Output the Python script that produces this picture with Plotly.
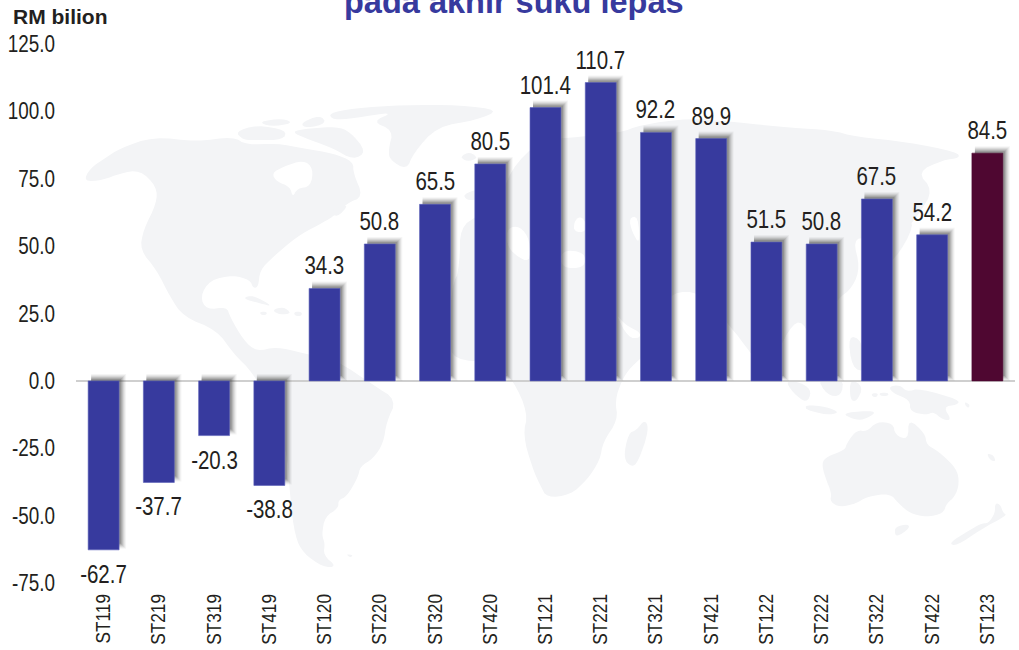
import plotly.graph_objects as go

categories = ["ST119","ST219","ST319","ST419","ST120","ST220","ST320","ST420","ST121","ST221","ST321","ST421","ST122","ST222","ST322","ST422","ST123"]
values = [-62.7,-37.7,-20.3,-38.8,34.3,50.8,65.5,80.5,101.4,110.7,92.2,89.9,51.5,50.8,67.5,54.2,84.5]
y_ticks = [-75,-50,-25,0,25,50,75,100,125]
title_text = "pada akhir suku lepas"
unit_text = "RM bilion"

W, H = 1019, 650
L, R, T, B = 76, 4, 44, 67
PW, PH = W - L - R, H - T - B
UNIT = PH / 200.0           # pixels per RM billion
SLOT = PW / len(categories) # pixels per category
BAR_W = 0.56

BLUE, MAROON, LAND, INK = "#373a9e", "#4f0731", "#f3f4f6", "#231f20"
FONT = "Liberation Sans"

def chaikin(p, n=2):
    for _ in range(n):
        q = []
        for i in range(len(p)):
            a, b = p[i], p[(i + 1) % len(p)]
            q.append((.75*a[0]+.25*b[0], .75*a[1]+.25*b[1]))
            q.append((.25*a[0]+.75*b[0], .25*a[1]+.75*b[1]))
        p = q
    return p

def shape(pts, fill=LAND):
    pts = chaikin(pts)
    xy = [((x - L) / PW, 1 - (y - T) / PH) for x, y in pts]
    d = "M" + " L".join(f"{x:.4f},{y:.4f}" for x, y in xy) + " Z"
    return dict(type="path", path=d, xref="paper", yref="paper", fillcolor=fill,
                line=dict(width=0), layer="below")

def crop(ox, oy, pts):
    return [(ox + x / 3, oy + y / 3) for x, y in pts]

z4 = lambda p: crop(70, 90, p)
z6 = lambda p: crop(270, 380, p)
z7 = lambda p: crop(660, 380, p)
americas = (
    z4([(40,275),(60,235),(105,205),(150,175),(250,140),(380,155),(490,140),(530,165),(620,160),(700,175),(790,190),(850,215),(850,250),(880,320),(830,340),(790,380),(745,405),(680,440),(610,500),(570,540),(565,590),(550,595),(540,570),(490,555),(420,570),(390,620),(410,660),(470,650),(480,680),(520,750),(560,785),(620,770),(700,790),(800,810)])
    + z6([(310,15),(380,60),(350,125),(340,190),(310,235),(270,260),(265,290),(230,350),(205,360),(205,385),(165,410),(155,465),(165,490),(160,525),(200,560),(160,562),(100,520),(75,470),(60,350),(50,200),(-10,60),(-50,-20)])
    + z4([(490,790),(440,720),(340,680),(300,620),(260,540),(210,480),(220,420),(260,340),(260,290),(210,240),(150,250),(100,270)])
)
land = [
 americas,
 z4([(775,70),(850,55),(1000,45),(1170,45),(1290,60),(1220,90),(1100,110),(1030,190),(1010,240),(960,210),(955,180),(970,120),(905,95),(975,65),(850,85),(790,90)]),
 z4([(495,125),(560,105),(650,120),(640,150),(560,150),(520,150)]),
 z4([(565,95),(640,85),(670,100),(600,110)]),
 z4([(690,100),(750,75),(770,100),(710,115)]),
 z4([(660,125),(720,115),(800,110),(840,125),(890,185),(850,210),(790,175),(720,150)]),
 z4([(515,625),(550,615),(610,650),(570,640)]),
 z4([(605,660),(640,650),(665,670),(630,675)]),
 z4([(570,665),(590,665),(590,675),(572,675)]),
 z4([(672,665),(695,665),(695,678),(675,678)]),
 z4([(780,360),(840,340),(800,385)]),
 z4([(1170,200),(1200,185),(1225,205),(1190,215)]),
 z4([(1180,315),(1210,300),(1250,300),(1220,330),(1190,330)]),
 # Eurasia
 [(452,300),(460,262),(460,228),(478,215),(500,205),(510,170),(540,140),(567,138),(620,133),(640,125),(690,118),(733,122),(793,128),(830,130),(857,137),(907,142),(957,152),(960,158),(943,160),(917,172),(933,190),(920,213),(903,233),(893,247),(880,240),(867,237),(853,240),(860,267),(853,287),(837,300),(830,313),(838,345),(822,350),(825,378),(812,340),(800,318),(785,335),(768,378),(745,345),(725,320),(700,292),(672,292),(665,310),(640,300),(600,290)],
 # Africa
 [(452,277),(470,265),(620,265),(660,300),(672,310),(668,335),(650,350),(630,368),(622,380),(615,400),(618,420),(603,442),(600,460),(587,480),(570,495),(547,498),(540,485),(532,467),(523,435),(528,413),(513,380),(495,362),(453,360),(450,340)],
 [(905,215),(915,225),(895,260),(875,272),(885,250)],
 [(848,335),(862,340),(866,372),(852,368)],
 z6([(1125,118),(1137,150),(1105,245),(1085,262),(1060,235),(1075,160),(1100,150)]),
 z6([(228,522),(250,525),(240,533)]),
 z7([(375,0),(430,10),(455,35),(440,70),(400,40)]),
 z7([(435,75),(500,80),(540,98),(500,105),(440,90)]),
 z7([(470,-10),(550,-10),(545,50),(500,45)]),
 z7([(570,-5),(610,20),(590,65),(570,60)]),
 z7([(635,40),(655,40),(650,52),(637,50)]),
 z7([(658,38),(685,38),(685,48),(660,48)]),
 z7([(685,20),(720,15),(740,35),(780,25),(900,60),(890,75),(850,80),(875,120),(850,120),(820,95),(800,105),(750,95),(750,60),(700,40)]),
 z7([(545,100),(620,92),(650,97),(610,120),(580,118)]),
 z7([(485,250),(500,230),(555,210),(560,190),(590,150),(620,155),(650,125),(700,130),(705,165),(745,180),(745,115),(795,160),(800,195),(830,210),(890,265),(898,310),(885,350),(860,370),(850,400),(800,412),(750,400),(715,370),(690,340),(620,350),(590,370),(540,382),(510,365),(515,340),(495,290)]),
 z7([(705,440),(745,432),(748,445),(715,468),(705,465)]),
 z7([(1005,370),(1020,372),(1030,400),(1042,405),(960,450),(890,498),(865,490),(930,450),(965,430),(985,430),(1005,400)]),
 z7([(980,220),(1000,225),(1008,245),(990,240)]),
 z7([(915,65),(930,75),(925,85),(915,75)]),
]
sea = [
 z4([(605,250),(640,230),(700,210),(730,235),(722,290),(682,295),(668,322),(660,290),(620,275)]),  # Hudson Bay
 [(507,228),(520,226),(530,240),(530,263),(515,255),(507,245)],   # west Mediterranean
 [(561,250),(585,252),(585,268),(561,268)],
 [(574,222),(580,216),(586,222),(586,232),(574,232)],             # Black Sea
 [(629,218),(638,216),(640,245),(632,232)],                       # Caspian
 [(615,312),(625,325),(640,332),(640,338),(628,338)],             # Red Sea
]
shapes = [shape(p) for p in land] + [shape(p, "#ffffff") for p in sea]

fig = go.Figure()

# soft drop shadow, built from the same values: (reach px, opacity)
for reach, op in [(7,.05),(6,.07),(5,.09),(4,.12),(3,.15),(2,.2)]:
    width = BAR_W + (reach - 3) / SLOT
    top = [max(v, 0) + reach / UNIT for v in values]
    low = [(7 - reach) / UNIT if v > 0 else v + (8 - reach) / UNIT for v in values]
    fig.add_trace(go.Bar(x=categories, y=[t - l for t, l in zip(top, low)], base=low,
                         width=width, offset=-BAR_W / 2 + 3 / SLOT,
                         marker=dict(color="#333333", opacity=op, line=dict(width=0)),
                         hoverinfo="skip", showlegend=False))

fig.add_trace(go.Bar(x=categories, y=values, width=BAR_W,
                     marker=dict(color=[BLUE] * (len(values) - 1) + [MAROON],
                                 line=dict(color=["#5b60b8"] * (len(values) - 1) + [MAROON], width=0.6)),
                     showlegend=False))

annotations = [
    dict(x=c, y=v, xref="x", yref="y", text=f"{v:.1f}", showarrow=False,
         yshift=(23 if v > 0 else -24), yanchor="middle",
         font=dict(family=FONT, size=25, color=INK))
    for c, v in zip(categories, values)
]
annotations.append(dict(x=(60 - L) / PW, y=1 - (17 - T) / PH, xref="paper", yref="paper", xanchor="center",
                        yanchor="middle", text=f"<b>{unit_text}</b>", showarrow=False,
                        font=dict(family=FONT, size=21, color=INK)))
annotations.append(dict(x=(513.5 - L) / PW, y=1 - (2 - T) / PH, xref="paper", yref="paper", xanchor="center",
                        yanchor="middle", text=f"<b>{title_text}</b>", showarrow=False,
                        font=dict(family=FONT, size=32.5, color=BLUE)))

fig.update_layout(
    width=W, height=H, margin=dict(l=L, r=R, t=T, b=B, autoexpand=False),
    paper_bgcolor="white", plot_bgcolor="rgba(0,0,0,0)", barmode="overlay", bargap=0.44,
    shapes=shapes, annotations=annotations, showlegend=False,
    xaxis=dict(type="category", categoryorder="array", categoryarray=categories, range=[-0.5, len(categories) - 0.5], showgrid=False, zeroline=False,
               showline=False, ticks="", tickangle=-90, ticklabelstandoff=6,
               tickfont=dict(family=FONT, size=20, color=INK)),
    yaxis=dict(range=[-75, 125], tickvals=y_ticks, ticktext=[f"{t:.1f}" for t in y_ticks], showgrid=False,
               zeroline=True, zerolinecolor="#cfcfcf", zerolinewidth=1.5, showline=False, ticks="",
               ticklabelstandoff=20,
               tickfont=dict(family=FONT, size=23, color=INK)),
)

# the reference uses a condensed face: compress numbers and tick labels horizontally, keeping them real text
NARROW_JS = """
document.body.style.margin='0';document.body.style.overflow='hidden';
function narrow(){
  document.querySelectorAll('svg text').forEach(function(t){
    var s=t.textContent;
    if(!/^(-?[0-9.]+|ST[0-9]+)$/.test(s)||t.hasAttribute('textLength'))return;
    var w=t.getComputedTextLength();
    var f=/^ST/.test(s)?0.86:0.82;
    t.setAttribute('textLength',(w*f).toFixed(2));
    t.setAttribute('lengthAdjust','spacingAndGlyphs');
  });
}
narrow();setTimeout(narrow,50);setTimeout(narrow,300);
"""
fig.write_html("out.html", post_script=NARROW_JS, config={"displayModeBar": False})
